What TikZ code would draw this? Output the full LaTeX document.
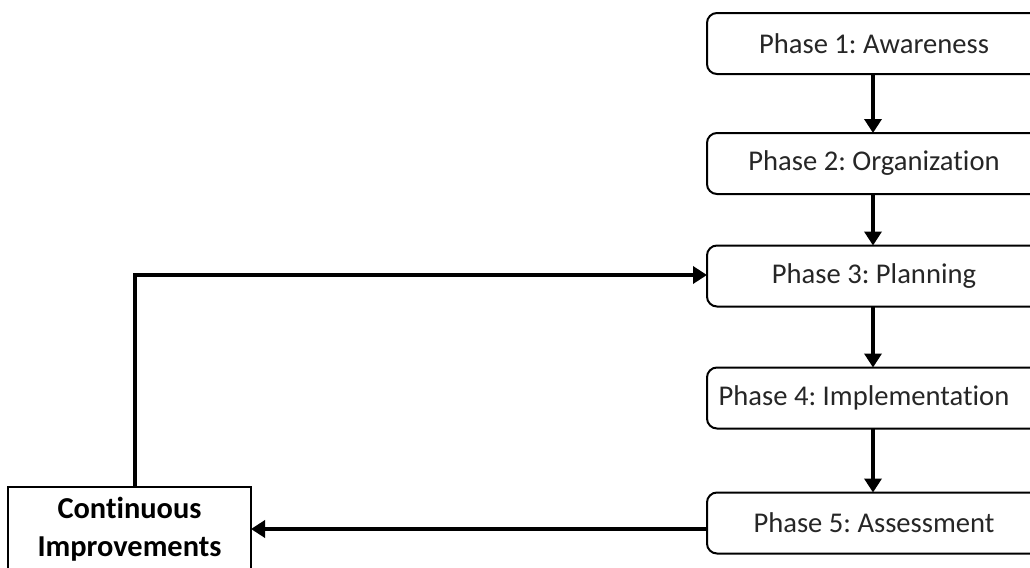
\documentclass[tikz,border=0pt]{standalone}
\usepackage{fontspec}
\setmainfont[Ligatures=NoCommon]{Carlito}
\frenchspacing
\usetikzlibrary{arrows.meta}
\tikzset{
  phasebox/.style={draw, line width=1pt, rounded corners=5pt, minimum width=167pt, minimum height=30.5pt, inner sep=0pt, outer sep=0pt, font=\fontsize{14.3}{17}\selectfont, text=black!85},
  cibox/.style={draw, line width=1pt, minimum width=121.5pt, minimum height=42pt, inner sep=0pt, outer sep=0pt, align=center, font=\fontsize{15.2}{19}\selectfont\bfseries},
  arr/.style={line width=2.2pt, -{Triangle[length=7pt,width=8.5pt]}},
}
\begin{document}
\begin{tikzpicture}[x=0.5pt,y=-0.5pt]
\clip (0,0) rectangle (1030,568);
\node[phasebox] (P1) at (874,43.5) {Phase 1: Awareness};
\node[phasebox] (P2) at (874,163.5) {Phase 2: Organization};
\node[phasebox] (P3) at (874,276) {Phase 3: Planning};
\node[phasebox] (P4) at (874,398) {Phase 4: Implementation\hspace*{10pt}};
\node[phasebox] (P5) at (874,523) {Phase 5: Assessment};
\node[cibox] (CI) at (129.5,529) {Continuous\\Improvements};
\coordinate (k) at (135,275);
\draw[arr] (P1.south -| 873,0) -- (P2.north -| 873,0);
\draw[arr] (P2.south -| 873,0) -- (P3.north -| 873,0);
\draw[arr] (P3.south -| 873,0) -- (P4.north -| 873,0);
\draw[arr] (P4.south -| 873,0) -- (P5.north -| 873,0);
\draw[arr] (CI.east -| P5.west) -- (CI.east);
\draw[arr] (CI.north -| k) -- (k) -- (k -| P3.west);
\end{tikzpicture}
\end{document}
